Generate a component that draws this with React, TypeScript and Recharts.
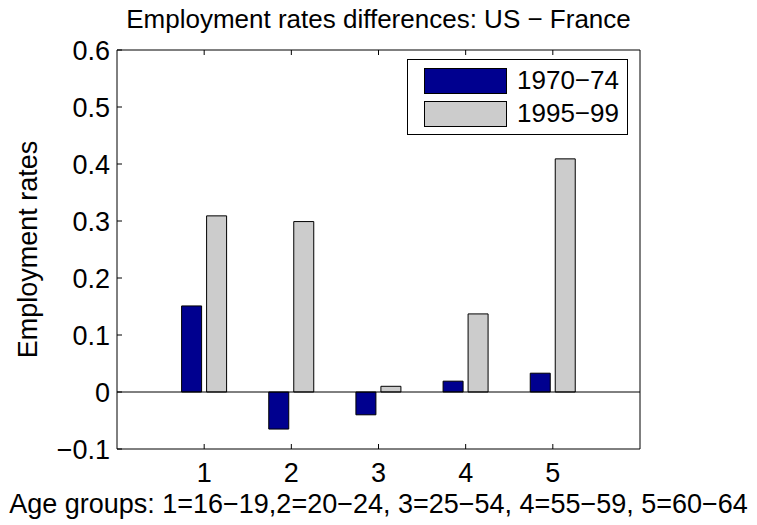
import React from 'react';
import { BarChart, Bar, XAxis, YAxis, ReferenceLine, Legend } from 'recharts';

// age groups on the x axis
const groups = ['1', '2', '3', '4', '5'];
// US - France employment rate differences
const early = [0.151, -0.065, -0.04, 0.019, 0.033]; // 1970-74
const late = [0.309, 0.299, 0.01, 0.137, 0.409]; // 1995-99
const yTicks = [-0.1, 0, 0.1, 0.2, 0.3, 0.4, 0.5, 0.6];

const data = groups.map((g, i) => ({ group: g, early: early[i], late: late[i] }));

const FONT = '"Liberation Sans", Arial, Helvetica, sans-serif';
const FS = 27;

const fmtY = (v: number) => (v === 0 ? '0' : v < 0 ? '\u2212' + Math.abs(v).toFixed(1) : v.toFixed(1));

const tickStyle = { fill: '#000', fontSize: FS, fontFamily: FONT };

const LegendBox = (props: any) => {
  const items = props.payload || [];
  return (
    <div
      style={{
        border: '1px solid #000',
        background: '#fff',
        width: 219,
        height: 74,
        boxSizing: 'content-box',
        fontFamily: FONT,
        fontSize: 26,
        color: '#000',
      }}
    >
      {items.map((it: any, i: number) => (
        <div key={i} style={{ position: 'relative', height: 33, marginTop: i === 0 ? 8 : 0 }}>
          <div
            style={{
              position: 'absolute',
              left: 16,
              top: 0,
              width: 81,
              height: 24,
              background: it.color,
              border: '1px solid #000',
            }}
          />
          <span style={{ position: 'absolute', left: 109, top: -3, lineHeight: '30px' }}>{it.value}</span>
        </div>
      ))}
    </div>
  );
};

export default function App() {
  return (
    <div style={{ position: 'absolute', left: 0, top: 0, width: 757, height: 525, background: '#fff', fontFamily: FONT }}>
      <div
        style={{
          position: 'absolute',
          left: 117,
          width: 523,
          top: 6,
          textAlign: 'center',
          fontSize: 26,
          lineHeight: '26px',
          color: '#000',
          whiteSpace: 'nowrap',
        }}
      >
        Employment rates differences: US {'\u2212'} France
      </div>
      <BarChart
        width={757}
        height={525}
        data={data}
        margin={{ top: 20, right: 0, bottom: 0, left: 0 }}
        barSize={20}
        barGap={5}
      >
        <XAxis
          dataKey="group"
          padding={{ left: 43.6, right: 43.6 }}
          height={76}
          tick={tickStyle}
          tickSize={-5}
          tickMargin={19}
          interval={0}
          stroke="#000"
          label={{ value: 'Age groups: 1=16\u221219,2=20\u221224, 3=25\u221254, 4=55\u221259, 5=60\u221264', position: 'insideBottom', offset: 12, fill: '#000', fontSize: FS, fontFamily: FONT }}
        />
        <XAxis
          xAxisId="top"
          orientation="top"
          dataKey="group"
          padding={{ left: 43.6, right: 43.6 }}
          height={30}
          tickSize={-5}
          tickFormatter={() => ''}
          interval={0}
          stroke="#000"
        />
        <YAxis
          domain={[-0.1, 0.6]}
          ticks={yTicks}
          width={117}
          tick={tickStyle}
          tickSize={-5}
          tickMargin={12}
          tickFormatter={fmtY}
          interval={0}
          stroke="#000"
          label={{ value: 'Employment rates', angle: -90, position: 'insideLeft', offset: 27, fill: '#000', fontSize: FS, fontFamily: FONT, style: { textAnchor: 'middle' } }}
        />
        <YAxis
          yAxisId="right"
          orientation="right"
          domain={[-0.1, 0.6]}
          ticks={yTicks}
          width={117}
          tickSize={-5}
          tickFormatter={() => ''}
          interval={0}
          stroke="#000"
        />
        <ReferenceLine y={0} stroke="#000" strokeWidth={1} />
        <Legend
          layout="vertical"
          verticalAlign="middle"
          align="center"
          content={<LegendBox />}
          wrapperStyle={{ left: 407, top: 59, width: 221, height: 76 }}
        />
        <Bar dataKey="early" name={'1970\u221274'} fill="#00008F" stroke="#000" strokeWidth={1} isAnimationActive={false} />
        <Bar dataKey="late" name={'1995\u221299'} fill="#CCCCCC" stroke="#000" strokeWidth={1} isAnimationActive={false} />
      </BarChart>
    </div>
  );
}
